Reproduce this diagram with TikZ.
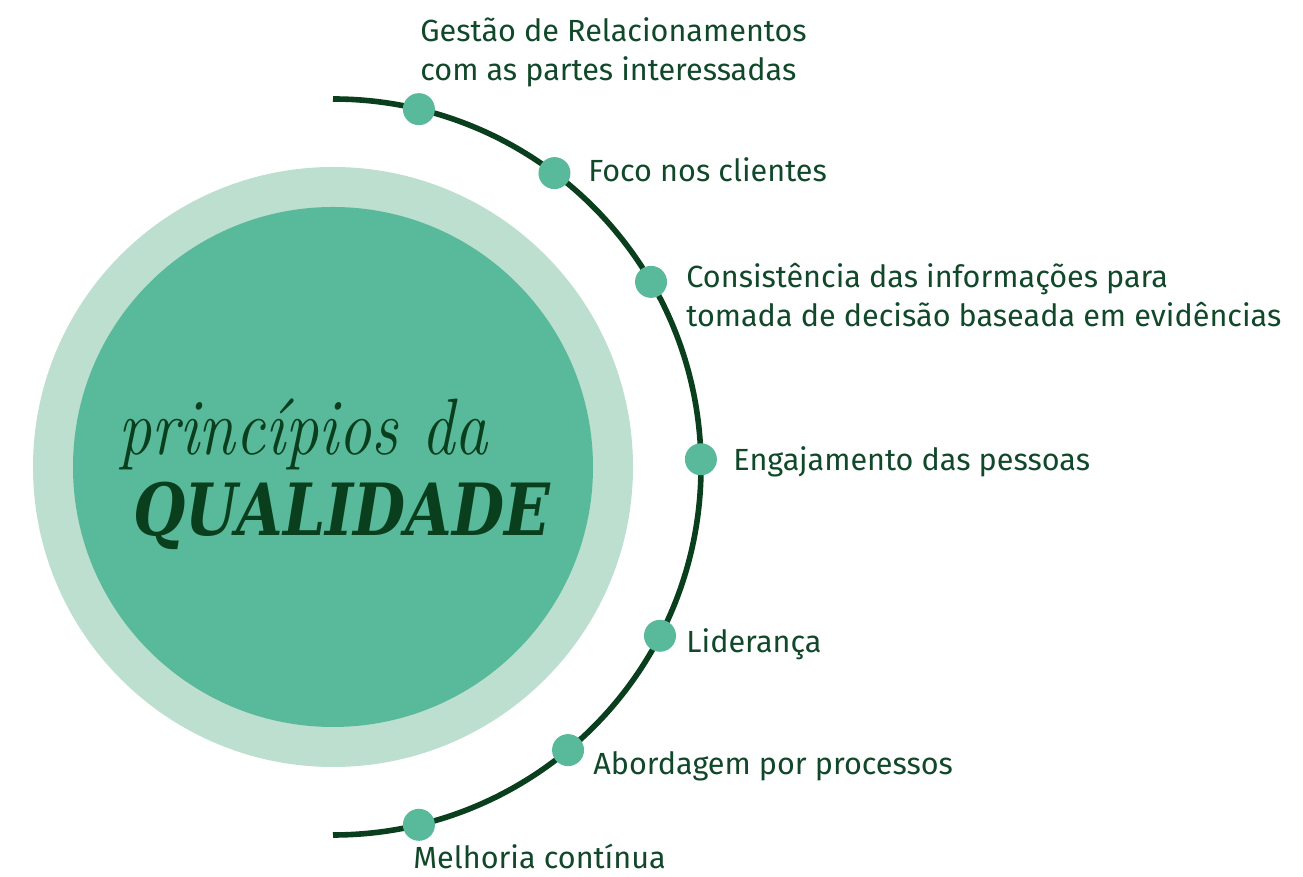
\documentclass[tikz,border=0pt]{standalone}
\usepackage{fontspec}
\setmainfont{Fira Sans}
\newfontfamily\slabfont{DejaVu Serif}
\newfontfamily\handfont{Latin Modern Roman}
\usepackage{xcolor}
\usetikzlibrary{positioning}

\definecolor{ringlight}{HTML}{BDDFCF}
\definecolor{ringmid}{HTML}{59B99B}
\definecolor{arcdark}{HTML}{0A3F1E}
\definecolor{labeltext}{HTML}{11482A}

\begin{document}
\begin{tikzpicture}[
  x=0.5pt, y=0.5pt,
  dot/.style={circle, fill=ringmid, inner sep=0pt, minimum size=16pt},
  label/.style={font=\fontsize{15.3}{19.5}\selectfont, text=labeltext,
    anchor=west, align=left, inner sep=0pt},
  title/.style={text=arcdark, anchor=base west, inner sep=0pt}
]
\useasboundingbox (0,0) rectangle (1303,877);
\coordinate (centre) at (333,410);
\fill[ringlight] (centre) circle (300);
\fill[ringmid] (centre) circle (260);
\draw[arcdark, line width=2.8pt] (333,778) arc (90:-90:368);

\node[title, font=\handfont\itshape\fontsize{40}{40}\selectfont] (script)
  at (118,422) {\scalebox{0.83}[1]{princípios da}};
\node[title, font=\slabfont\bfseries\itshape\fontsize{36}{36}\selectfont]
  (caps) at (133,341) {\scalebox{0.835}[1]{QUALIDADE}};

\node[dot] (relacoes) at ([shift={(76.5:368)}]centre) {};
\node[dot] (clientes) at ([shift={(53:368)}]centre) {};
\node[dot] (evidencia) at ([shift={(30.2:368)}]centre) {};
\node[dot] (pessoas) at ([shift={(1.2:368)}]centre) {};
\node[dot] (lideranca) at ([shift={(-27.3:368)}]centre) {};
\node[dot] (processos) at ([shift={(-50.3:368)}]centre) {};
\node[dot] (melhoria) at ([shift={(-76.5:368)}]centre) {};

\node[label] (relacoesT) at (420,825)
  {Gestão de Relacionamentos\\com as partes interessadas};
\node[label] (clientesT) at (588,707) {Foco nos clientes};
\node[label] (evidenciaT) at (686,582)
  {Consistência das informações para\\tomada de decisão baseada em evidências};
\node[label] (pessoasT) at (733,415) {Engajamento das pessoas};
\node[label] (liderancaT) at (686,233) {Liderança};
\node[label] (processosT) at (593,111) {Abordagem por processos};
\node[label] (melhoriaT) at (413,21) {Melhoria contínua};
\end{tikzpicture}
\end{document}
